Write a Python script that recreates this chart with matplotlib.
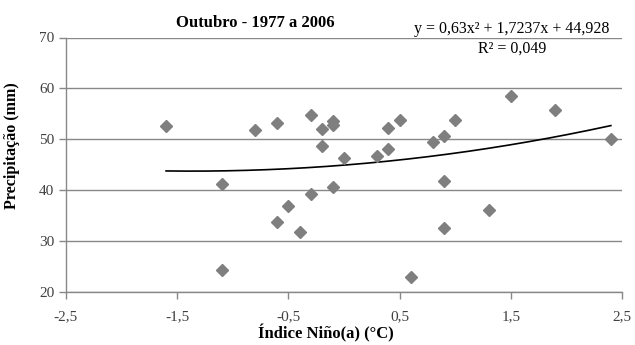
import matplotlib
matplotlib.use("Agg")
import matplotlib.pyplot as plt
import numpy as np
from matplotlib.ticker import FuncFormatter

# Índice Niño(a) e precipitação de outubro, 1977-2006
indice = [-1.6, -1.1, -1.1, -0.8, -0.6, -0.6, -0.5, -0.4, -0.3, -0.3,
          -0.2, -0.2, -0.1, -0.1, -0.1, 0.0, 0.3, 0.4, 0.4, 0.5,
          0.6, 0.8, 0.9, 0.9, 0.9, 1.0, 1.3, 1.5, 1.9, 2.4]
precip = [52.7, 41.2, 24.3, 51.8, 53.3, 33.7, 36.9, 31.8, 54.8, 39.3,
          52.0, 48.7, 53.5, 52.8, 40.7, 46.4, 46.7, 48.1, 52.2, 53.7,
          23.0, 49.5, 50.6, 41.8, 32.5, 53.7, 36.2, 58.6, 55.8, 50.1]

# tendência polinomial (ordem 2)
coef = [0.63, 1.7237, 44.928]
r2 = 0.049

xticks = [-2.5, -1.5, -0.5, 0.5, 1.5, 2.5]
yticks = [20, 30, 40, 50, 60, 70]

plt.rcParams['font.family'] = ['Liberation Serif', 'DejaVu Serif']

fig = plt.figure(figsize=(6.35, 3.45), dpi=100)
ax = fig.add_axes([66/635, 1-292/345, (622-66)/635, (292-37.5)/345])

cinza = '#888888'
ax.set_xlim(-2.5, 2.5)
ax.set_ylim(20, 70)
ax.set_xticks(xticks)
ax.set_yticks(yticks)
ax.yaxis.grid(True, color=cinza, linewidth=1.0)
ax.set_axisbelow(True)

for lado in ['top', 'right']:
    ax.spines[lado].set_visible(False)
for lado in ['left', 'bottom']:
    ax.spines[lado].set_color(cinza)
    ax.spines[lado].set_linewidth(1.0)

virgula = FuncFormatter(lambda v, p: ('%g' % v).replace('.', ','))
ax.xaxis.set_major_formatter(virgula)
ax.tick_params(axis='both', colors=cinza, length=5, width=1.0,
               labelcolor='#404040', labelsize=11)
ax.tick_params(axis='x', pad=8)

ax.plot(indice, precip, linestyle='none', marker='D', markersize=6.5,
        color='#7f7f7f', zorder=3)

xs = np.linspace(min(indice), max(indice), 200)
ax.plot(xs, np.polyval(coef, xs), color='black', linewidth=1.2, zorder=2)

fig.text(255/635, 1-23/345, 'Outubro - 1977 a 2006', ha='center', va='center',
         fontsize=12, fontweight='bold')
fig.text(512/635, 1-29/345, 'y = 0,63x² + 1,7237x + 44,928',
         ha='center', va='center', fontsize=11.5)
fig.text(512/635, 1-49/345, 'R² = ' + ('%.3f' % r2).replace('.', ','),
         ha='center', va='center', fontsize=11.5)

ax.set_xlabel('Índice Niño(a) (°C)', fontsize=12, fontweight='bold')
ax.xaxis.set_label_coords(0.468, -0.128)
ax.set_ylabel('Precipitação (mm)', fontsize=11.5, fontweight='bold')
ax.yaxis.set_label_coords(-0.083, 0.574)

fig.savefig('out.png', dpi=100)
